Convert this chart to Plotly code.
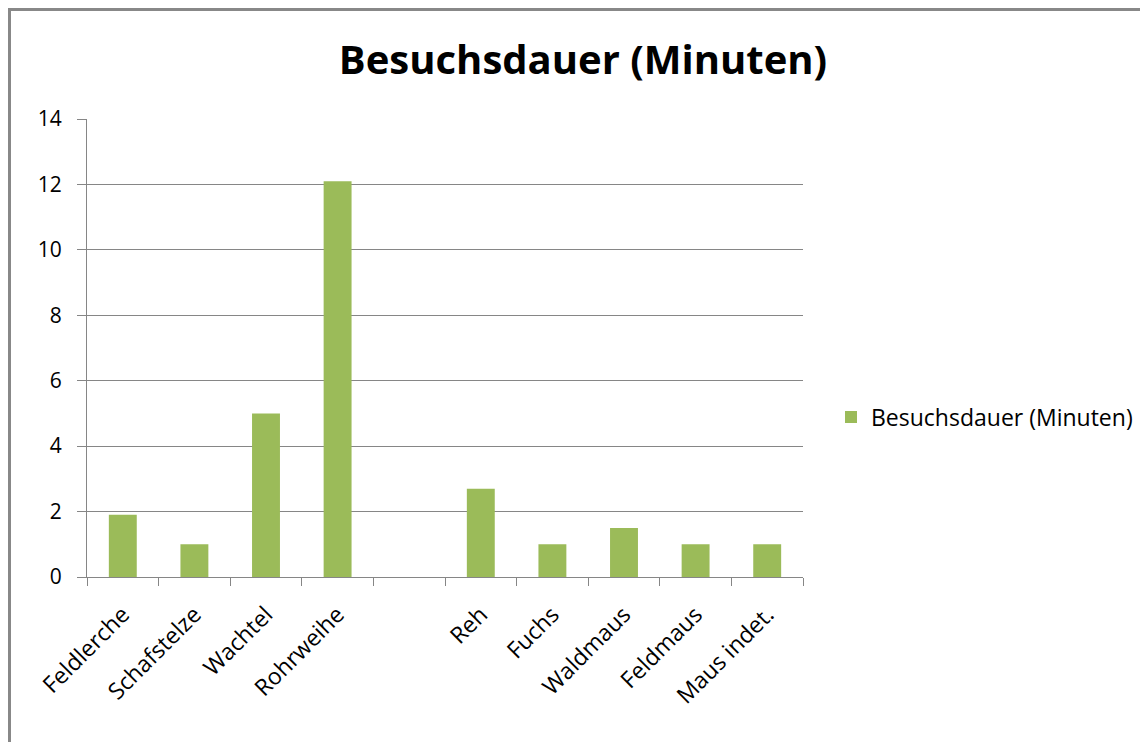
import plotly.graph_objects as go

categories = ["Feldlerche", "Schafstelze", "Wachtel", "Rohrweihe", " ",
              "Reh", "Fuchs", "Waldmaus", "Feldmaus", "Maus indet."]
values = [1.9, 1.0, 5.0, 12.1, None, 2.7, 1.0, 1.5, 1.0, 1.0]
series_name = "Besuchsdauer (Minuten)"
y_ticks = [0, 2, 4, 6, 8, 10, 12, 14]

FONT = "Open Sans, Lato, sans-serif"
GRID = "#868686"

# the page draws the figure 8px in from the top-left corner
OFF = 8
W, H = 1148 - OFF, 742 - OFF
L, T = 87 - OFF, 119 - OFF
pw, ph = 716, 458
R, B = W - L - pw, H - T - ph


def px_x(x):
    return (x - OFF - L) / pw


def px_y(y):
    return (H - B - (y - OFF)) / ph


fig = go.Figure()
fig.add_trace(go.Bar(x=categories, y=values, name=series_name,
                     marker=dict(color="#9BBB59", line=dict(width=0)),
                     showlegend=True))

fig.update_layout(
    width=W, height=H,
    margin=dict(l=L, r=R, t=T, b=B, autoexpand=False),
    paper_bgcolor="white", plot_bgcolor="white",
    bargap=0.61,
    font=dict(family=FONT, color="black", size=21),
    title=dict(text="<b>" + series_name + "</b>", x=px_x(583), xref="paper",
               xanchor="center", y=1 - (60 - OFF) / H, yanchor="middle",
               font=dict(family=FONT, size=40, color="black")),
    showlegend=True,
    legend=dict(x=px_x(831), y=px_y(417), xanchor="left", yanchor="middle",
                font=dict(family=FONT, size=23, color="black"),
                bgcolor="rgba(0,0,0,0)", itemwidth=30),
    xaxis=dict(type="category", categoryorder="array", categoryarray=categories,
               tickangle=-45, showline=True, linecolor=GRID, linewidth=1,
               ticks="outside", tickson="boundaries", ticklen=8, tickcolor=GRID,
               showgrid=False, tickfont=dict(family=FONT, size=23, color="black"),
               ticklabelstandoff=14,
               range=[-0.5, len(categories) - 0.5]),
    yaxis=dict(range=[0, 14], tickvals=y_ticks, showgrid=True, gridcolor=GRID,
               gridwidth=1, showline=True, linecolor=GRID, linewidth=1,
               ticks="outside", ticklen=9, tickcolor=GRID, zeroline=False,
               tickfont=dict(family=FONT, size=21, color="black"),
               ticklabelstandoff=11),
    shapes=[dict(type="rect", xref="paper", yref="paper",
                 x0=px_x(OFF + 1.5), x1=px_x(1170), y0=px_y(780), y1=px_y(OFF + 1.5),
                 line=dict(color="#888888", width=3), fillcolor="rgba(0,0,0,0)",
                 layer="below")],
)

fig.write_html("out.html")
